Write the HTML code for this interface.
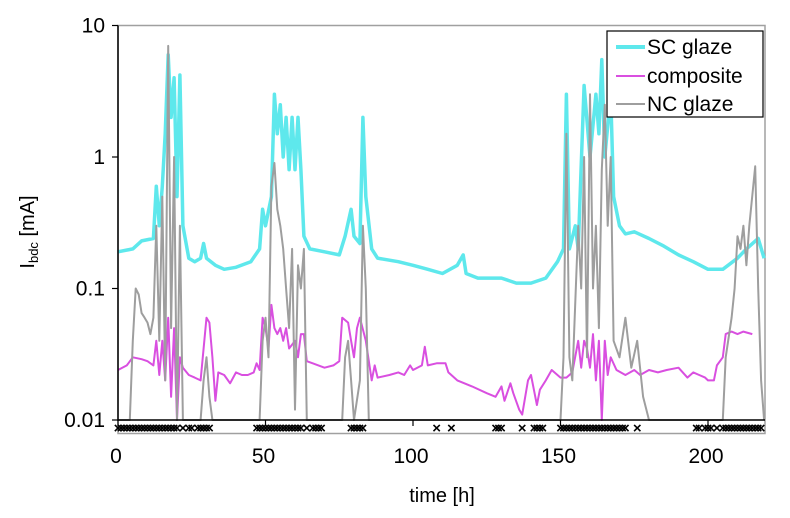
<!DOCTYPE html>
<html><head><meta charset="utf-8"><style>
html,body{margin:0;padding:0;background:#fff;}
svg{display:block;font-family:"Liberation Sans",Arial,sans-serif;}
</style></head><body>
<svg id="chart" width="790" height="518" viewBox="0 0 790 518">
  <rect x="0" y="0" width="790" height="518" fill="#fff"/>
  <rect x="118" y="25.5" width="647" height="408" fill="none" stroke="#a0a0a0" stroke-width="1.5"/>
  <g id="series"></g>
  <g id="markers"></g>
  <line x1="118" y1="420" x2="765" y2="420" stroke="#000" stroke-width="1.5"/>
  <line x1="118" y1="25.5" x2="118" y2="421" stroke="#000" stroke-width="1.5"/>
  <g id="yticks"></g>
  <g id="xticks"></g>
  <text x="442" y="502" font-size="20" text-anchor="middle">time [h]</text>
  <text transform="translate(34,232) rotate(-90)" font-size="20" text-anchor="middle">I<tspan font-size="13" dy="4">bdc</tspan><tspan dy="-4"> [mA]</tspan></text>
  <g>
    <rect x="607" y="31" width="156" height="86" fill="#fff" stroke="#000" stroke-width="1.2"/>
    <line x1="616" y1="47" x2="645" y2="47" stroke="#5ee8ec" stroke-width="4"/>
    <text x="647" y="54" font-size="21">SC glaze</text>
    <line x1="616" y1="76" x2="645" y2="76" stroke="#d94fe0" stroke-width="2"/>
    <text x="647" y="83" font-size="21">composite</text>
    <line x1="616" y1="104" x2="645" y2="104" stroke="#9e9e9e" stroke-width="2"/>
    <text x="647" y="111" font-size="21">NC glaze</text>
  </g>
</svg>
<script>
const xTicks=[0,50,100,150,200];
const yTicks=[10,1,0.1,0.01];
const yTickLabels=["10","1","0.1","0.01"];
const scT=[0,5,8,12,13,14,15,16,17,18,19,20,21,22,24,26,28,29,30,33,36,40,45,48,49,50,52,53,54,55,56,57,58,59,60,61,62,63,65,70,75,77,79,80,82,83,84,86,88,95,100,105,110,115,117,118,122,130,135,140,145,149,151,152,153,155,156,158,160,162,163,164,165,167,168,170,172,175,180,185,190,195,200,205,210,213,217,219];
const scV=[0.19,0.2,0.23,0.24,0.6,0.3,0.6,1.5,6,2,4,0.5,4.2,0.3,0.17,0.16,0.17,0.22,0.17,0.15,0.14,0.145,0.16,0.2,0.4,0.3,0.5,3,1.5,2.5,1,2,0.8,2,0.8,2,0.8,0.25,0.2,0.19,0.18,0.25,0.4,0.25,0.22,2,0.5,0.2,0.17,0.16,0.15,0.14,0.13,0.15,0.18,0.13,0.12,0.12,0.11,0.11,0.12,0.16,0.2,3,0.2,0.3,0.2,3.5,1,3,1.5,5.5,1,3,0.5,0.3,0.26,0.27,0.24,0.21,0.18,0.16,0.14,0.14,0.17,0.2,0.24,0.17];
const compT=[0,3,5,8,10,12,13,14,15,16,17,18,19,20,21,22,24,26,28,29,30,31,32,33,34,36,38,40,42,44,46,47,48,49,50,51,52,53,54,55,56,57,58,60,61,62,63,64,66,70,73,75,76,78,79,80,81,82,84,86,87,88,92,95,97,99,100,103,104,105,108,111,112,115,120,125,128,130,131,133,134,136,137,139,140,142,143,145,147,150,152,153,154,156,157,158,159,160,161,162,163,164,165,166,167,169,172,175,177,180,183,186,190,193,195,197,199,200,202,203,205,206,208,210,212,215];
const compV=[0.024,0.026,0.03,0.029,0.028,0.026,0.04,0.022,0.04,0.02,0.06,0.015,0.05,0.01,0.03,0.025,0.022,0.021,0.02,0.035,0.06,0.055,0.03,0.014,0.023,0.022,0.019,0.023,0.022,0.022,0.023,0.027,0.024,0.06,0.05,0.035,0.075,0.05,0.045,0.05,0.04,0.05,0.035,0.04,0.03,0.045,0.045,0.028,0.027,0.025,0.026,0.028,0.06,0.055,0.04,0.03,0.05,0.06,0.04,0.02,0.026,0.021,0.022,0.023,0.022,0.026,0.024,0.026,0.036,0.026,0.027,0.027,0.023,0.02,0.018,0.016,0.015,0.018,0.014,0.019,0.016,0.012,0.011,0.02,0.022,0.013,0.017,0.02,0.024,0.021,0.021,0.022,0.023,0.04,0.025,0.04,0.035,0.025,0.045,0.02,0.04,0.01,0.04,0.022,0.03,0.024,0.022,0.024,0.022,0.024,0.023,0.024,0.025,0.021,0.023,0.022,0.021,0.02,0.02,0.026,0.03,0.045,0.047,0.045,0.047,0.045];
const ncT=[0,4,5,6,7,8,9,10,11,12,13,14,15,16,17,18,19,20,21,22,28,29,30,31,32,48,49,50,51,52,53,54,55,56,57,58,59,60,61,62,63,64,76,77,78,79,80,82,83,84,85,150,151,152,153,154,156,157,158,159,160,161,162,163,164,165,166,167,168,170,172,174,176,178,180,205,206,208,209,210,211,212,213,214,216,217,218,219];
const ncV=[0.005,0.005,0.04,0.1,0.09,0.065,0.06,0.055,0.045,0.06,0.3,0.04,0.5,0.02,7,0.05,1,0.008,0.3,0.005,0.005,0.02,0.03,0.015,0.005,0.005,0.04,0.06,0.03,0.6,0.9,0.4,0.3,0.2,0.1,0.05,0.2,0.012,0.15,0.1,0.2,0.005,0.005,0.03,0.04,0.02,0.005,0.02,0.3,0.1,0.005,0.005,0.03,1.5,0.03,0.02,0.3,0.1,1,0.03,3,0.1,0.3,0.05,0.8,2.5,0.3,1,0.04,0.03,0.06,0.025,0.04,0.015,0.005,0.005,0.03,0.06,0.1,0.25,0.2,0.3,0.15,0.3,0.85,0.1,0.02,0.005];
const markerT=[0,1,2,3,4,5,6,7,8,9,10,11,12,13,14,15,16,17,18,19,20,22,24,25,27,28,29,30,31,47,48,49,50,51,52,53,54,55,56,57,58,59,60,61,62,64,66,67,68,69,79,80,81,82,83,108,113,128,129,130,137,141,142,143,144,150,151,152,153,154,155,156,157,158,159,160,161,162,163,164,165,166,167,168,169,170,171,172,176,196,197,199,200,201,203,205,206,207,208,209,210,211,212,213,214,215,216,217,218];

const NS="http://www.w3.org/2000/svg";
const X0=118,PX=(708-118)/200;
const YTOP=25.5,YBOT=420,DEC=(YBOT-YTOP)/3;
function xs(t){return X0+t*PX;}
function ys(v){const y=YTOP+(1-Math.log10(v))*DEC;return Math.min(Math.max(y,YTOP),YBOT);}
function mk(tag,attrs){const e=document.createElementNS(NS,tag);for(const k in attrs)e.setAttribute(k,attrs[k]);return e;}

const ser=document.getElementById('series');
function line(ts,vs,color,w,name){
  let d='';
  for(let i=0;i<ts.length;i++){d+=(i?'L':'M')+xs(ts[i]).toFixed(1)+','+ys(vs[i]).toFixed(1);}
  const p=mk('path',{d:d,fill:'none',stroke:color,'stroke-width':w,'stroke-linejoin':'round'});
  
  
  ser.appendChild(p);
}
line(scT,scV,'#5ee8ec',3.5,'sc-glaze-line');
line(compT,compV,'#d94fe0',2,'composite-line');
line(ncT,ncV,'#9e9e9e',2,'nc-glaze-line');

const mg=document.getElementById('markers');
markerT.forEach(t=>{
  const m=mk('text',{x:xs(t),y:433,'font-size':15,'font-weight':'bold','text-anchor':'middle',fill:'#000'});
  m.textContent='×';
  
  
  mg.appendChild(m);
});

const yg=document.getElementById('yticks');
yTicks.forEach((v,i)=>{
  const y=ys(v);
  const l=mk('line',{x1:112,y1:y,x2:118,y2:y,stroke:'#000','stroke-width':1.2});
  
  
  yg.appendChild(l);
  const tx=mk('text',{x:105,y:y+7,'font-size':21,'text-anchor':'end'});
  tx.textContent=yTickLabels[i];
  
  
  yg.appendChild(tx);
});
const xg=document.getElementById('xticks');
xTicks.forEach(t=>{
  const x=xs(t);
  const l=mk('line',{x1:x,y1:420,x2:x,y2:426,stroke:'#000','stroke-width':1.2});
  
  
  xg.appendChild(l);
  const tx=mk('text',{x:x-2,y:463,'font-size':21,'text-anchor':'middle'});
  tx.textContent=String(t);
  
  
  xg.appendChild(tx);
});
</script>
</body></html>
